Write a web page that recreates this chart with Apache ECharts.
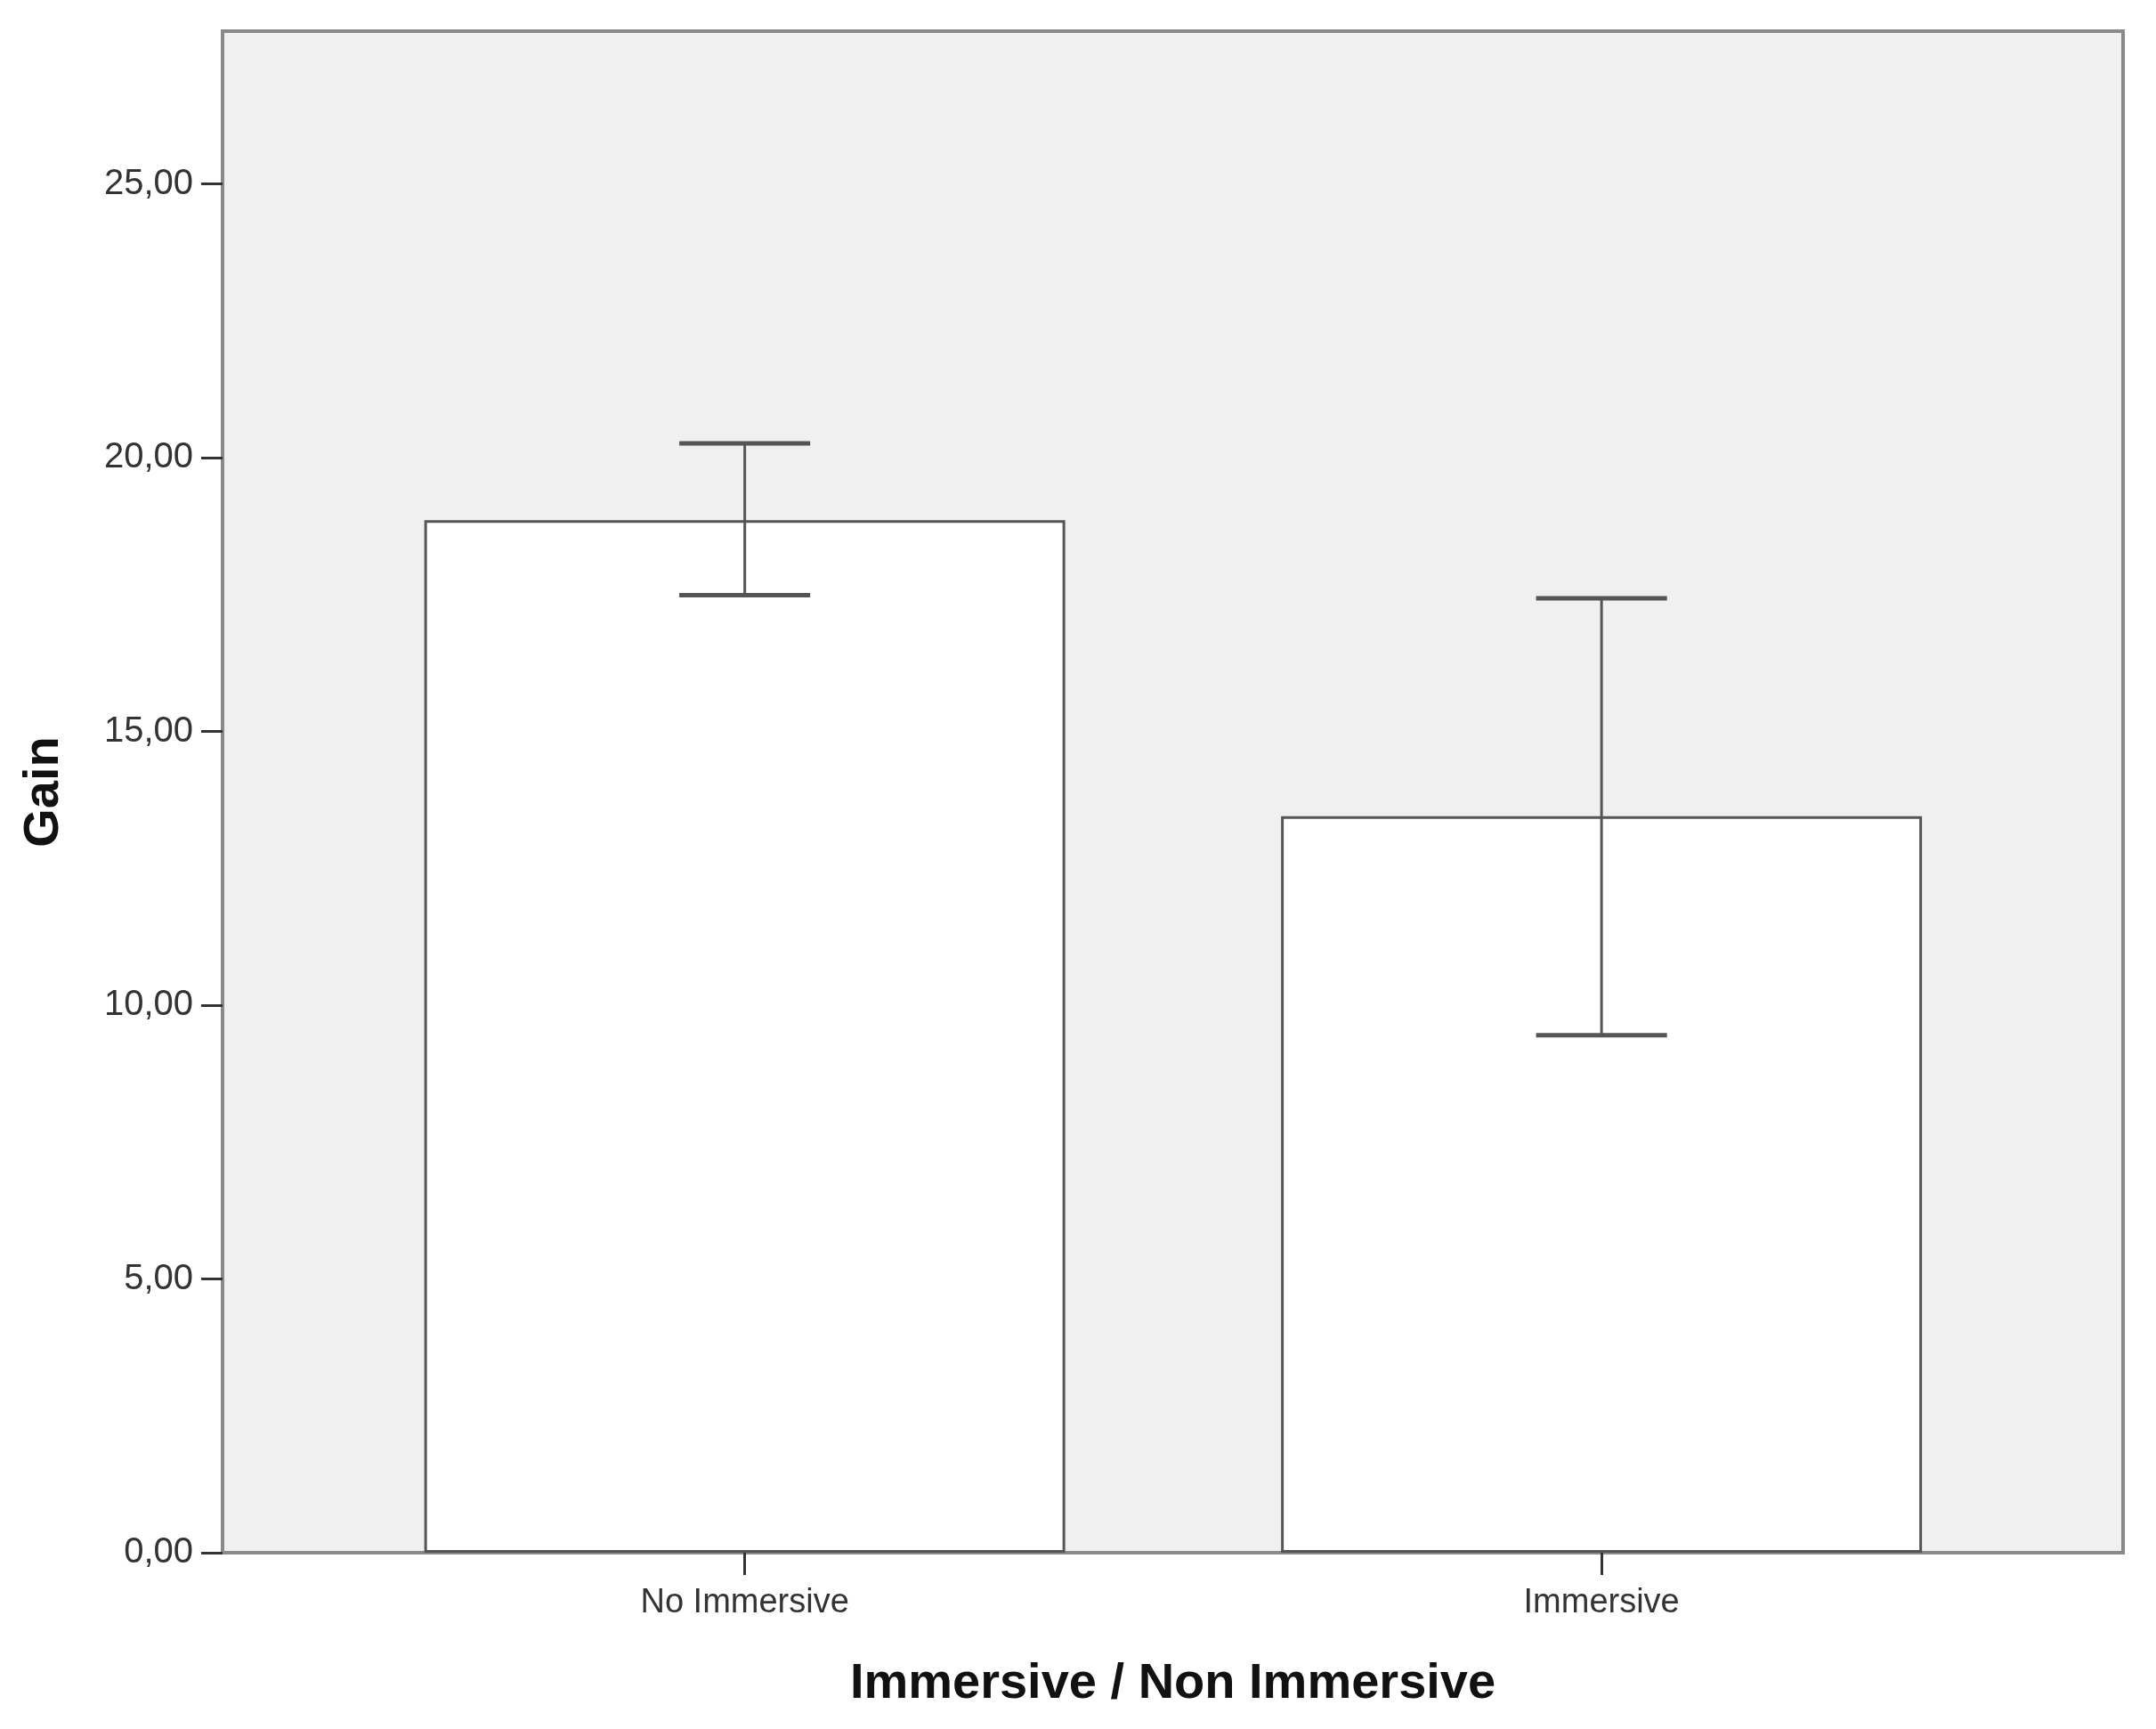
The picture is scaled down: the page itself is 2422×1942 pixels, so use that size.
<!DOCTYPE html>
<html>
<head>
<meta charset="utf-8">
<script src="https://cdn.jsdelivr.net/npm/echarts@6/dist/echarts.min.js"></script>
<style>
html,body{margin:0;padding:0;background:#fff;}
#chart{width:2422px;height:1942px;}
</style>
</head>
<body>
<div id="chart"></div>
<script>
// ---- data ----
const categories = ['No Immersive', 'Immersive'];
const categoryPos = [1, 2];
const gainMean = [18.86, 13.45];
const ciLow = [17.49, 9.45];
const ciHigh = [20.26, 17.43];
const yTickValues = [0, 5, 10, 15, 20, 25];

const chart = echarts.init(document.getElementById('chart'), null, {renderer: 'canvas'});

const barData = categoryPos.map((x, i) => [x, gainMean[i]]);
const errData = categoryPos.map((x, i) => [x, ciLow[i], ciHigh[i]]);

const capHalf = 0.0764; // half cap width in x-axis units
const frameColor = '#8a8a8a';
const markColor = '#555555';

const option = {
  backgroundColor: '#ffffff',
  animation: false,
  grid: {
    left: 250, right: 37, top: 35, bottom: 198,
    show: true,
    backgroundColor: '#f0f0f0',
    borderColor: frameColor,
    borderWidth: 4
  },
  xAxis: {
    type: 'value',
    min: 0.3905,
    max: 2.6087,
    name: 'Immersive / Non Immersive',
    nameLocation: 'middle',
    nameGap: 120,
    nameTextStyle: {fontFamily: 'Liberation Sans', fontWeight: 'bold', fontSize: 56, color: '#111'},
    axisLine: {show: true, lineStyle: {color: frameColor, width: 4}},
    axisTick: {show: true, customValues: categoryPos, length: 25, lineStyle: {color: '#333', width: 3}},
    axisLabel: {
      customValues: categoryPos,
      margin: 38,
      fontFamily: 'Liberation Sans', fontSize: 38, color: '#333',
      formatter: v => categories[categoryPos.indexOf(Math.round(v))] || ''
    },
    splitLine: {show: false}
  },
  yAxis: {
    type: 'value',
    min: 0,
    max: 27.79,
    name: 'Gain',
    nameLocation: 'middle',
    nameGap: 172,
    nameTextStyle: {fontFamily: 'Liberation Sans', fontWeight: 'bold', fontSize: 56, color: '#111'},
    axisLine: {show: true, lineStyle: {color: frameColor, width: 4}},
    axisTick: {show: true, customValues: yTickValues, length: 24, lineStyle: {color: '#333', width: 3}},
    axisLabel: {
      customValues: yTickValues,
      margin: 33,
      fontFamily: 'Liberation Sans', fontSize: 40, color: '#333',
      formatter: v => v.toFixed(2).replace('.', ',')
    },
    splitLine: {show: false}
  },
  series: [
    {
      type: 'bar',
      data: barData,
      barWidth: 720,
      itemStyle: {color: '#ffffff', borderColor: markColor, borderWidth: 3},
      z: 3
    },
    {
      type: 'custom',
      data: errData,
      z: 5,
      renderItem: function (params, api) {
        const x = api.value(0);
        const lo = api.value(1);
        const hi = api.value(2);
        const pLo = api.coord([x, lo]);
        const pHi = api.coord([x, hi]);
        const pLoL = api.coord([x - capHalf, lo]);
        const pLoR = api.coord([x + capHalf, lo]);
        const pHiL = api.coord([x - capHalf, hi]);
        const pHiR = api.coord([x + capHalf, hi]);
        const style = {stroke: markColor, lineWidth: 3};
        return {
          type: 'group',
          children: [
            {type: 'line', shape: {x1: pLo[0], y1: pLo[1], x2: pHi[0], y2: pHi[1]}, style: style},
            {type: 'line', shape: {x1: pLoL[0], y1: pLoL[1], x2: pLoR[0], y2: pLoR[1]}, style: {stroke: markColor, lineWidth: 5}},
            {type: 'line', shape: {x1: pHiL[0], y1: pHiL[1], x2: pHiR[0], y2: pHiR[1]}, style: {stroke: markColor, lineWidth: 5}}
          ]
        };
      }
    }
  ]
};
chart.setOption(option);
</script>
</body>
</html>
